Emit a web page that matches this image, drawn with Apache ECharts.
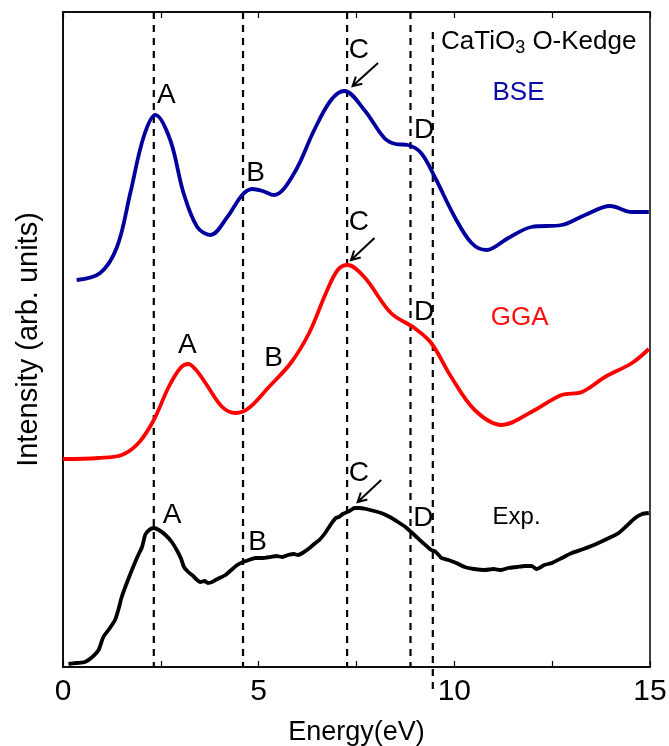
<!DOCTYPE html>
<html><head><meta charset="utf-8">
<script src="https://cdn.jsdelivr.net/npm/echarts@6/dist/echarts.min.js"></script>
<style>html,body{margin:0;padding:0;background:#fff}#c{width:669px;height:746px}</style>
</head><body><div id="c"></div>
<script>
// Energy (eV) / intensity (arb. units) pairs
const bse = [[0.35,387],[0.95,394],[1.38,420],[1.72,474],[2.06,530],[2.36,552],[2.74,527],[3.08,474],[3.43,440],[3.77,432],[4.20,450],[4.58,472],[4.84,478],[5.10,476],[5.39,472],[5.91,494],[6.42,537],[6.85,567],[7.19,576],[7.70,557],[8.21,529],[8.50,523],[8.81,522],[9.15,514],[9.50,490],[10.01,450],[10.44,424],[10.82,417],[11.38,429],[11.97,440],[12.74,442],[13.34,452],[13.98,461],[14.54,455],[14.97,455]];
const gga = [[0.0,208],[0.91,209],[1.50,212],[1.93,224],[2.32,247],[2.70,280],[3.00,299],[3.20,303],[3.40,297],[3.64,284],[4.07,260],[4.41,254],[4.75,259],[5.26,280],[5.82,304],[6.29,334],[6.72,374],[7.02,397],[7.27,402],[7.70,390],[8.38,354],[8.98,339],[9.41,324],[9.92,290],[10.52,257],[11.21,242],[11.97,255],[12.74,272],[13.26,275],[13.85,290],[14.54,304],[14.97,318]];
const expt = [[0.14,3],[0.35,4],[0.56,5],[0.75,10],[0.91,17],[1.03,30],[1.18,38],[1.33,47],[1.42,58],[1.50,70],[1.63,84],[1.76,97],[1.90,110],[2.02,120],[2.10,132],[2.20,137],[2.32,139],[2.45,137],[2.62,132],[2.78,125],[2.92,116],[3.02,108],[3.09,100],[3.20,95],[3.30,92],[3.40,88],[3.51,85],[3.62,86],[3.70,84],[3.81,85],[3.95,88],[4.15,92],[4.30,97],[4.45,102],[4.60,105],[4.75,107],[4.92,109],[5.09,109],[5.30,110],[5.45,111],[5.61,110],[5.75,112],[5.90,113],[6.00,112],[6.12,114],[6.30,119],[6.45,124],[6.55,127],[6.70,134],[6.85,143],[6.97,149],[7.05,150],[7.15,153],[7.32,156],[7.45,159],[7.57,159],[7.75,158],[7.95,156],[8.13,154],[8.35,150],[8.56,145],[8.75,140],[8.98,132],[9.20,124],[9.41,117],[9.50,116],[9.60,112],[9.67,109],[9.85,107],[10.05,104],[10.26,100],[10.50,98],[10.78,97],[11.00,98],[11.20,97],[11.38,99],[11.60,100],[11.80,101],[11.97,101],[12.10,98],[12.30,102],[12.49,104],[12.75,109],[13.00,114],[13.30,118],[13.50,121],[13.68,124],[13.95,129],[14.20,134],[14.40,141],[14.62,149],[14.80,153],[14.97,154]];
// dashed reference energies: [energy, topValue, bottomValue]
const guideLines = [[2.32,655,0],[4.60,655,0],[7.26,655,0],[8.88,655,0],[9.45,635,-23]];
// arrows: [tailE, tailV, tipE, tipV]
const arrows = [[8.05,604,7.40,581],[7.96,429,7.36,407],[8.13,187,7.53,165]];
// annotations: [energy, value, text, color, fontSize]
const notes = [
  [2.64,572,'A','#000',28],[4.92,494,'B','#000',28],[7.56,617,'C','#000',28],[9.23,537,'D','#000',28],[11.64,574,'BSE','#0a0aa8',26],
  [3.18,322,'A','#000',28],[5.38,309,'B','#000',28],[7.56,445,'C','#000',28],[9.23,355,'D','#000',28],[11.67,349,'GGA','#ff1010',26],
  [2.79,152,'A','#000',28],[4.97,125,'B','#000',28],[7.56,194,'C','#000',28],[9.21,149,'D','#000',28],[11.59,150,'Exp.','#000',24]
];
const xTicks = [0,5,10,15];

const FONT = '"Liberation Sans", Arial, sans-serif';
const chart = echarts.init(document.getElementById('c'), null, {renderer:'canvas'});
const series = [];
series.push({type:'line', data:bse, smooth:0.35, showSymbol:false, lineStyle:{color:'#00009e', width:3.8}, z:5});
series.push({type:'line', data:gga, smooth:0.35, showSymbol:false, lineStyle:{color:'#ff0000', width:3.8}, z:5});
series.push({type:'line', data:expt, smooth:0.2, showSymbol:false, lineStyle:{color:'#000', width:3.8}, z:5});
guideLines.forEach(g => series.push({type:'line', data:[[g[0],g[1]],[g[0],g[2]]], showSymbol:false, clip:false,
  lineStyle:{color:'#000', width:2.2, type:[7,6]}, z:2, silent:true}));
series.push({type:'custom', data:arrows, clip:false, z:6, renderItem:function(params, api){
  const t = api.coord([api.value(0), api.value(1)]);
  const h = api.coord([api.value(2), api.value(3)]);
  const ang = Math.atan2(t[1]-h[1], t[0]-h[0]);
  const L = 10, sp = 0.5;
  const p1 = [h[0]+L*Math.cos(ang+sp), h[1]+L*Math.sin(ang+sp)];
  const p2 = [h[0]+L*Math.cos(ang-sp), h[1]+L*Math.sin(ang-sp)];
  return {type:'group', children:[
    {type:'line', shape:{x1:t[0],y1:t[1],x2:h[0],y2:h[1]}, style:{stroke:'#000', lineWidth:2}},
    {type:'polyline', shape:{points:[p1,h,p2]}, style:{stroke:'#000', lineWidth:2, fill:null}}
  ]};
}});
series.push({type:'custom', data:notes, clip:false, z:7, renderItem:function(params, api){
  const n = notes[params.dataIndex];
  const p = api.coord([n[0], n[1]]);
  return {type:'text', x:p[0], y:p[1], style:{text:n[2], fill:n[3], fontSize:n[4], fontFamily:FONT, fontWeight:'normal', align:'center', verticalAlign:'middle'}};
}});

chart.setOption({
  animation:false,
  title:{left:436, top:22, text:'{a|CaTiO}{s|3}{a| O-Kedge}', textStyle:{fontWeight:'normal', rich:{
    a:{fontFamily:FONT, fontSize:26, fontWeight:'normal', color:'#000'}, s:{fontFamily:FONT, fontSize:18, fontWeight:'normal', color:'#000', padding:[12,0,0,0]}}}},
  grid:{left:63, right:19, top:12, bottom:79, outerBoundsMode:'none', containLabel:false, show:true, borderColor:'#000', borderWidth:1.5, backgroundColor:'transparent'},
  xAxis:[{type:'value', min:0, max:15, interval:2.5, position:'bottom',
    axisLine:{show:true, lineStyle:{color:'#000', width:1.5}},
    axisTick:{show:true, inside:true, length:6, lineStyle:{color:'#000', width:1.2}},
    axisLabel:{fontFamily:FONT, fontSize:30, color:'#000', margin:10, formatter:v => xTicks.indexOf(v)>=0 ? String(v) : ''},
    splitLine:{show:false},
    name:'Energy(eV)', nameLocation:'middle', nameGap:52, nameTextStyle:{fontFamily:FONT, fontSize:27, color:'#000'}},
   {type:'value', min:0, max:15, interval:2.5, position:'top',
    axisLine:{show:true, lineStyle:{color:'#000', width:1.5}},
    axisTick:{show:true, inside:true, length:6, lineStyle:{color:'#000', width:1.2}},
    axisLabel:{show:false}, splitLine:{show:false}}],
  yAxis:{type:'value', min:0, max:655, axisLine:{show:true, lineStyle:{color:'#000', width:1.5}},
    axisTick:{show:false}, axisLabel:{show:false}, splitLine:{show:false},
    name:'Intensity (arb. units)', nameLocation:'middle', nameGap:20, nameRotate:90,
    nameTextStyle:{fontFamily:FONT, fontSize:29, color:'#000'}},
  series:series
});
</script></body></html>
